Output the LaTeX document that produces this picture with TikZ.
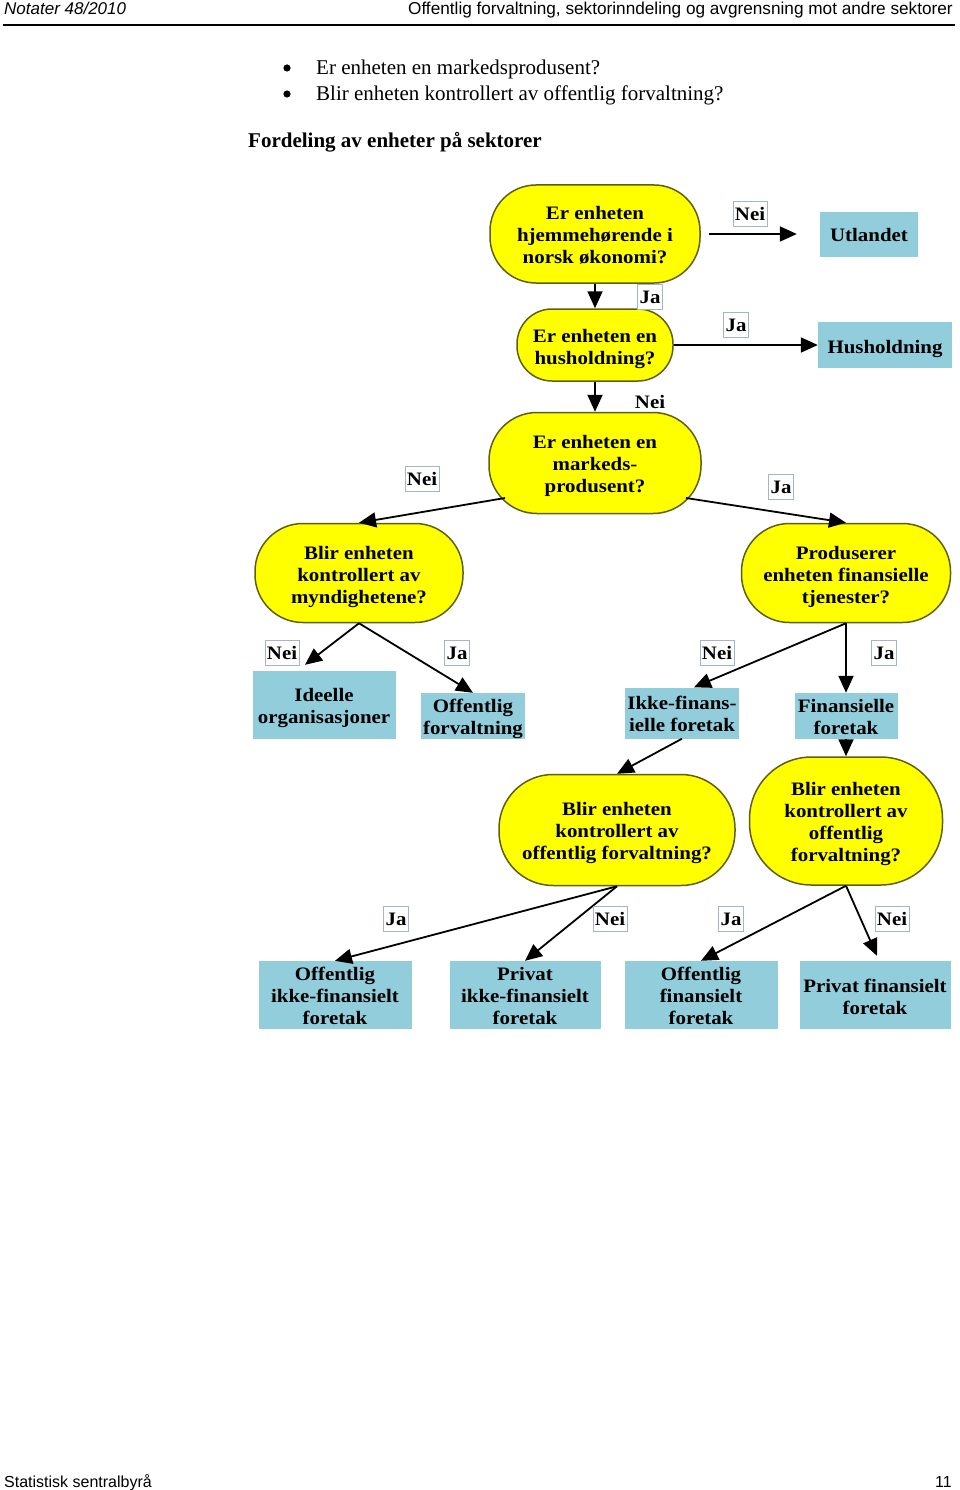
\documentclass[tikz,border=0pt]{standalone}
\usepackage{fontspec}
\setmainfont{Liberation Serif}
\newfontfamily\hdr{Liberation Sans}
\newfontfamily\dia[FakeStretch=1.1]{Liberation Serif}
\usetikzlibrary{arrows.meta}
\definecolor{qyel}{RGB}{255,255,0}
\definecolor{qbrd}{RGB}{95,95,20}
\definecolor{sblue}{RGB}{146,205,220}
\definecolor{lblbrd}{RGB}{165,180,205}
\newcommand\lowr[1]{\rule{0pt}{#1pt}}
\begin{document}
\begin{tikzpicture}[x=1pt,y=-1pt,
  dfont/.style={font=\dia\bfseries\fontsize{19}{22}\selectfont},
  q/.style={draw=qbrd, line width=1.5pt, fill=qyel, rounded corners=#1, align=center, inner sep=0pt, dfont},
  sb/.style={fill=sblue, align=center, inner sep=0pt, dfont},
  lb/.style={draw=lblbrd, line width=0.7pt, fill=white, inner xsep=2pt, inner ysep=0pt, minimum height=25pt, dfont},
  lbn/.style={inner sep=1pt, dfont},
  arr/.style={draw=black, line width=1.8pt, -{Triangle[length=17pt,width=15pt]}}
]
\useasboundingbox (0,0) rectangle (960,1490);

% header
\node[anchor=base west, inner sep=0pt, font=\hdr\itshape\fontsize{17}{20}\selectfont] (hl) at (4,15) {Notater 48/2010};
\node[anchor=base east, inner sep=0pt, font=\hdr\fontsize{17.2}{20}\selectfont] (hr) at (953,15) {Offentlig forvaltning, sektorinndeling og avgrensning mot andre sektorer};
\draw[line width=1.3pt] (3,25) -- (955,25);

% bullets
\fill (287,68) circle (3.6);
\fill (287,94) circle (3.6);
\node[anchor=base west, inner sep=0pt, font=\fontsize{21}{24}\selectfont] (b1) at (316,75) {Er enheten en markedsprodusent?};
\node[anchor=base west, inner sep=0pt, font=\fontsize{21}{24}\selectfont] (b2) at (316,101) {Blir enheten kontrollert av offentlig forvaltning?};
\node[anchor=base west, inner sep=0pt, font=\bfseries\fontsize{21}{24}\selectfont] (tt) at (248,148) {Fordeling av enheter på sektorer};

% questions
\node[q=46pt, minimum width=210pt, minimum height=98pt] (q1) at (595,234) {\lowr{15}Er enheten\\hjemmehørende i\\norsk økonomi?};
\node[q=35pt, minimum width=156pt, minimum height=72pt] (q2) at (595,345) {\lowr{21}Er enheten en\\husholdning?};
\node[q=48pt, minimum width=212pt, minimum height=101pt] (q3) at (595,463) {\lowr{19}Er enheten en\\markeds-\\produsent?};
\node[q=48pt, minimum width=208pt, minimum height=99pt] (q4) at (359,573) {\lowr{21}Blir enheten\\kontrollert av\\myndighetene?};
\node[q=48pt, minimum width=209pt, minimum height=99pt] (q5) at (846,573) {\lowr{21}Produserer\\enheten finansielle\\tjenester?};
\node[q=54pt, minimum width=236pt, minimum height=111pt] (q6) at (617,830) {\lowr{19}Blir enheten\\kontrollert av\\offentlig forvaltning?};
\node[q=62pt, minimum width=193pt, minimum height=128pt] (q7) at (846,821) {\lowr{19}Blir enheten\\kontrollert av\\offentlig\\forvaltning?};

% sector boxes
\node[sb, minimum width=98pt, minimum height=45pt] (ut) at (869,234) {\lowr{15}Utlandet};
\node[sb, minimum width=134pt, minimum height=46pt] (hus) at (885,345) {\lowr{21}Husholdning};
\node[sb, minimum width=143pt, minimum height=68pt] (ide) at (324,705) {\lowr{19}Ideelle\\organisasjoner};
\node[sb, minimum width=104pt, minimum height=46pt] (off) at (473,716) {\lowr{19}Offentlig\\forvaltning};
\node[sb, minimum width=114pt, minimum height=51pt] (ikf) at (682,713) {\lowr{15}Ikke-finans-\\ielle foretak};
\node[sb, minimum width=103pt, minimum height=46pt] (fin) at (846,716) {\lowr{15}Finansielle\\foretak};
\node[sb, minimum width=153pt, minimum height=68pt] (oif) at (335,995) {\lowr{15}Offentlig\\ikke-finansielt\\foretak};
\node[sb, minimum width=151pt, minimum height=68pt] (pif) at (525,995) {\lowr{15}Privat\\ikke-finansielt\\foretak};
\node[sb, minimum width=153pt, minimum height=68pt] (ofi) at (701,995) {\lowr{15}Offentlig\\finansielt\\foretak};
\node[sb, minimum width=151pt, minimum height=68pt] (pfi) at (875,995) {\lowr{17}Privat finansielt\\foretak};

% connectors
\draw[arr] ([xshift=8pt]q1.east) -- ([xshift=-23pt]ut.west);
\draw[arr] (q1.south) -- (q2.north);
\draw[arr] (q2.east) -- (hus.west);
\draw[arr] (q2.south) -- (q3.north);
\draw[arr] ([shift={(-90,35)}]q3.center) -- (q4.north);
\draw[arr] ([shift={(91,35)}]q3.center) -- (q5.north);
\draw[arr] (q4.south) -- ([shift={(-19,-6)}]ide.north);
\draw[arr] (q4.south) -- (off.north);
\draw[arr] (q5.south) -- ([xshift=12pt]ikf.north);
\draw[arr] (q5.south) -- (fin.north);
\draw[arr] (fin.south) -- (q7.north);
\draw[arr] (ikf.south) -- (q6.north);
\draw[arr] (q6.south) -- (oif.north);
\draw[arr] (q6.south) -- (pif.north);
\draw[arr] (q7.south) -- (ofi.north);
\draw[arr] (q7.south) -- ([shift={(2,-5)}]pfi.north);

% labels
\node[lb] (l1) at (750,214) {Nei};
\node[lb] (l2) at (650,297) {Ja};
\node[lb] (l3) at (736,325) {Ja};
\node[lbn] (l4) at (650,402) {Nei};
\node[lb] (l5) at (422,479) {Nei};
\node[lb] (l6) at (781,487) {Ja};
\node[lb] (l7) at (282,653) {Nei};
\node[lb] (l8) at (457,653) {Ja};
\node[lb] (l9) at (717,653) {Nei};
\node[lb] (l10) at (884,653) {Ja};
\node[lb] (l11) at (396,919) {Ja};
\node[lb] (l12) at (610,919) {Nei};
\node[lb] (l13) at (731,919) {Ja};
\node[lb] (l14) at (892,919) {Nei};

% footer
\node[anchor=base west, inner sep=0pt, font=\hdr\fontsize{16}{19}\selectfont] (fl) at (4,1487) {Statistisk sentralbyrå};
\node[anchor=base east, inner sep=0pt, font=\hdr\fontsize{16}{19}\selectfont] (fr) at (952,1487) {11};
\end{tikzpicture}
\end{document}
